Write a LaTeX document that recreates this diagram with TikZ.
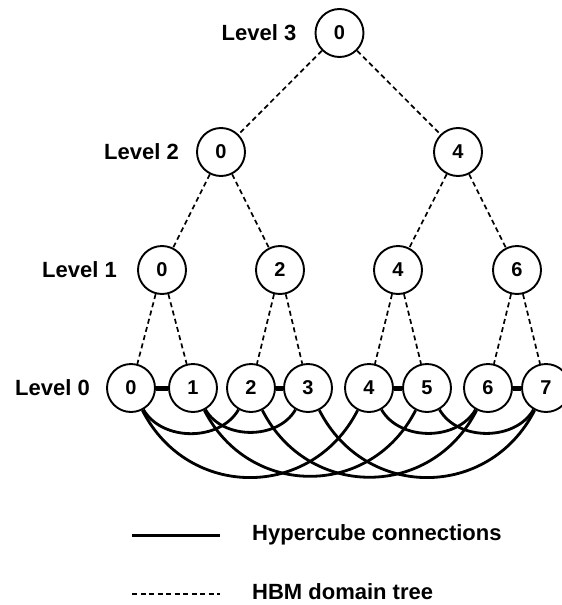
\documentclass[tikz,border=0pt]{standalone}
\usepackage{fontspec}
\setmainfont{Liberation Sans}
\begin{document}
\begin{tikzpicture}[x=1pt,y=-1pt,
  vert/.style={circle,draw,line width=1.9pt,minimum size=48pt,inner sep=0pt,
    font=\fontsize{20}{24}\selectfont\bfseries},
  lvl/.style={anchor=east,inner sep=0pt,font=\fontsize{22}{26}\selectfont\bfseries},
  legtext/.style={anchor=west,inner sep=0pt,font=\fontsize{22}{26}\selectfont\bfseries},
  tree/.style={line width=1.7pt,dash pattern=on 5pt off 3.5pt},
  cube/.style={line width=2.8pt},
  bar/.style={line width=5pt}]
\useasboundingbox (0,0) rectangle (562,605);
% level 0
\node[vert] (a0) at (131,388) {0};
\node[vert] (a1) at (193,388) {1};
\node[vert] (a2) at (251,388) {2};
\node[vert] (a3) at (308,388) {3};
\node[vert] (a4) at (369,388) {4};
\node[vert] (a5) at (427,388) {5};
\node[vert] (a6) at (488,388) {6};
\node[vert] (a7) at (546,388) {7};
% level 1
\node[vert] (b0) at (162,270) {0};
\node[vert] (b2) at (280,270) {2};
\node[vert] (b4) at (398,270) {4};
\node[vert] (b6) at (517,270) {6};
% level 2
\node[vert] (c0) at (221,152) {0};
\node[vert] (c4) at (458,152) {4};
% level 3
\node[vert] (d0) at (339.5,33) {0};
% labels
\node[lvl] (l3) at ([xshift=-18pt]d0.west) {Level 3};
\node[lvl] (l2) at ([xshift=-17pt]c0.west) {Level 2};
\node[lvl] (l1) at ([xshift=-20pt]b0.west) {Level 1};
\node[lvl] (l0) at ([xshift=-16pt]a0.west) {Level 0};
% tree
\draw[tree] (d0) -- (c0);
\draw[tree] (d0) -- (c4);
\draw[tree] (c0) -- (b0);
\draw[tree] (c0) -- (b2);
\draw[tree] (c4) -- (b4);
\draw[tree] (c4) -- (b6);
\draw[tree] (b0) -- (a0);
\draw[tree] (b0) -- (a1);
\draw[tree] (b2) -- (a2);
\draw[tree] (b2) -- (a3);
\draw[tree] (b4) -- (a4);
\draw[tree] (b4) -- (a5);
\draw[tree] (b6) -- (a6);
\draw[tree] (b6) -- (a7);
% hypercube: dimension 0
\draw[bar] (a0) -- (a1);
\draw[bar] (a2) -- (a3);
\draw[bar] (a4) -- (a5);
\draw[bar] (a6) -- (a7);
% dimension 1
\draw[cube] (a0.-60) to[out=-60,in=-120] (a2.-120);
\draw[cube] (a1.-60) to[out=-60,in=-120] (a3.-120);
\draw[cube] (a4.-60) to[out=-60,in=-120] (a6.-120);
\draw[cube] (a5.-60) to[out=-60,in=-120] (a7.-120);
% dimension 2
\draw[cube] (a0.-63) to[out=-63,in=-117,looseness=1.2] (a4.-117);
\draw[cube] (a1.-63) to[out=-63,in=-117,looseness=1.2] (a5.-117);
\draw[cube] (a2.-63) to[out=-63,in=-117,looseness=1.2] (a6.-117);
\draw[cube] (a3.-63) to[out=-63,in=-117,looseness=1.2] (a7.-117);
% legend
\coordinate (s1) at (132,535);
\coordinate (s2) at (220,535);
\coordinate (t1) at (132,594);
\coordinate (t2) at (220,594);
\draw[line width=3pt] (s1) -- (s2);
\draw[tree] (t1) -- (t2);
\node[legtext] (h1) at (252,535) {Hypercube connections};
\node[legtext] (h2) at (252,592) {HBM domain tree};
\end{tikzpicture}
\end{document}
